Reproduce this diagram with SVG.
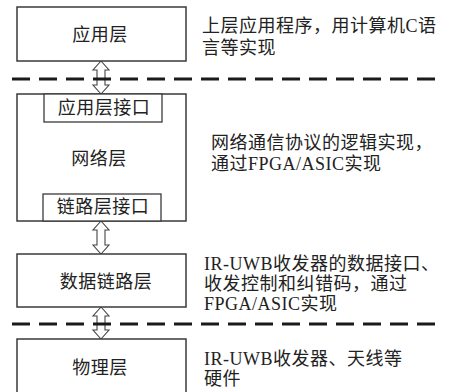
<svg xmlns="http://www.w3.org/2000/svg" width="456" height="392" viewBox="0 0 456 392">
<style>
.box{fill:#fff;stroke:#3a3a3a;stroke-width:1.5}
.ibox{fill:#fff;stroke:#3a3a3a;stroke-width:1.3}
.lbl{font-family:"Liberation Serif","Noto Sans CJK SC",serif;font-size:18px;fill:#222;text-anchor:middle;letter-spacing:0.5px}
.desc{font-family:"Liberation Serif","Noto Sans CJK SC",serif;font-size:18px;fill:#222;letter-spacing:0.5px}
.dash{stroke:#1a1a1a;stroke-width:3;stroke-dasharray:18 9;fill:none}
.arr{fill:#fff;stroke:#444;stroke-width:1.1;stroke-linejoin:miter}
</style>
<rect width="456" height="392" fill="#fff"/>
<g id="connectors">
<path class="arr" d="M101,61 L109,70 L105,70 L105,85 L109,85 L101,94 L93,85 L97,85 L97,70 L93,70 Z"/>
<path class="arr" d="M101,221 L109,230 L105,230 L105,245 L109,245 L101,254 L93,245 L97,245 L97,230 L93,230 Z"/>
<path class="arr" d="M101,307 L109,316 L105,316 L105,330 L109,330 L101,339 L93,330 L97,330 L97,316 L93,316 Z"/>
<line class="dash" x1="12" y1="79" x2="435" y2="79"/>
<line class="dash" x1="12" y1="324" x2="435" y2="324"/>
</g>
<g id="app">
<rect class="box" x="17" y="7" width="169" height="54"/>
<text class="lbl" x="100" y="41">应用层</text>
</g>
<g id="net">
<rect class="box" x="17" y="94" width="169" height="127"/>
<text class="lbl" x="99" y="165">网络层</text>
</g>
<g id="app-if">
<rect class="ibox" x="44" y="94" width="118" height="28"/>
<text class="lbl" x="104" y="114">应用层接口</text>
</g>
<g id="link-if">
<rect class="ibox" x="43" y="194" width="118" height="27"/>
<text class="lbl" x="103" y="213">链路层接口</text>
</g>
<g id="dll">
<rect class="box" x="17" y="254" width="169" height="53"/>
<text class="lbl" x="106" y="288">数据链路层</text>
</g>
<g id="phy">
<rect class="box" x="17" y="339" width="169" height="60"/>
<text class="lbl" x="100" y="374">物理层</text>
</g>
<g id="descriptions">
<text class="desc" x="202" y="32">上层应用程序，用计算机C语</text>
<text class="desc" x="202" y="54">言等实现</text>
<text class="desc" x="211" y="149">网络通信协议的逻辑实现，</text>
<text class="desc" x="211" y="170">通过FPGA/ASIC实现</text>
<text class="desc" x="204" y="270">IR-UWB收发器的数据接口、</text>
<text class="desc" x="204" y="290">收发控制和纠错码，通过</text>
<text class="desc" x="204" y="310">FPGA/ASIC实现</text>
<text class="desc" x="204" y="365">IR-UWB收发器、天线等</text>
<text class="desc" x="204" y="385">硬件</text>
</g>
</svg>
